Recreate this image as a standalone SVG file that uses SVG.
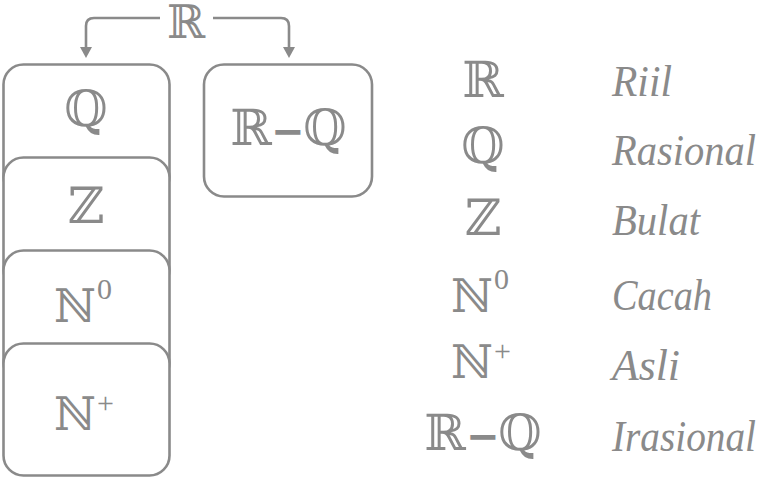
<svg xmlns="http://www.w3.org/2000/svg" width="761" height="478" viewBox="0 0 761 478">
<style>
.box{fill:#fff;stroke:#8a8a8a;stroke-width:2.6}
.con{fill:none;stroke:#8a8a8a;stroke-width:2.6}
.ds{font-family:"DejaVu Serif","DejaVu Sans",serif;font-size:50px;fill:#8a8a8a;text-anchor:middle}
.n{font-size:46px}
.mi{font-family:"DejaVu Sans",sans-serif;font-size:40px;font-weight:bold;fill:#8a8a8a;text-anchor:middle}
.sup{font-family:"Liberation Serif",serif;font-size:30px;fill:#8a8a8a}
.it{font-family:"Liberation Serif",serif;font-style:italic;font-size:45px;fill:#8a8a8a}
</style>
<g id="R-top"><text class="ds" x="186" y="38" style="font-size:46px">ℝ</text></g>
<g id="connectors">
<path class="con" d="M160,18 H94 Q86,18 86,26 V48"/>
<path d="M80,47 L92,47 L86,58 Z" fill="#8a8a8a"/>
<path class="con" d="M213,18 H281 Q289,18 289,26 V48"/>
<path d="M283,47 L295,47 L289,58 Z" fill="#8a8a8a"/>
</g>
<g id="Q-box"><rect class="box" x="3.5" y="64.5" width="166" height="132" rx="20"/><text class="ds" x="86" y="126">ℚ</text></g>
<g id="Z-box"><rect class="box" x="3.5" y="157.5" width="166" height="132" rx="20"/><text class="ds" x="86" y="223">ℤ</text></g>
<g id="N0-box"><rect class="box" x="3.5" y="250.5" width="166" height="132" rx="20"/><text class="ds n" x="75" y="322">ℕ</text><text class="sup" x="97" y="299">0</text></g>
<g id="Nplus-box"><rect class="box" x="3.5" y="343.5" width="166" height="132" rx="20"/><text class="ds n" x="75" y="430">ℕ</text><text class="sup" x="97" y="413">+</text></g>
<g id="RQ-box"><rect class="box" x="204" y="64.5" width="168" height="132" rx="20"/><text class="ds" x="251" y="145">ℝ</text><text class="mi" x="288" y="145">−</text><text class="ds" x="325" y="145">ℚ</text></g>
<g id="legend">
<text class="ds" x="483" y="97">ℝ</text><text class="it" x="612" y="96" textLength="60" lengthAdjust="spacingAndGlyphs">Riil</text>
<text class="ds" x="483" y="163">ℚ</text><text class="it" x="612" y="165" textLength="144" lengthAdjust="spacingAndGlyphs">Rasional</text>
<text class="ds" x="483" y="235">ℤ</text><text class="it" x="612" y="235" textLength="88" lengthAdjust="spacingAndGlyphs">Bulat</text>
<text class="ds n" x="472" y="312">ℕ</text><text class="sup" x="494" y="289">0</text><text class="it" x="612" y="310" textLength="100" lengthAdjust="spacingAndGlyphs">Cacah</text>
<text class="ds n" x="472" y="378">ℕ</text><text class="sup" x="494" y="361">+</text><text class="it" x="612" y="380" textLength="68" lengthAdjust="spacingAndGlyphs">Asli</text>
<text class="ds" x="445" y="450">ℝ</text><text class="mi" x="483" y="450">−</text><text class="ds" x="520" y="450">ℚ</text><text class="it" x="612" y="451" textLength="144" lengthAdjust="spacingAndGlyphs">Irasional</text>
</g>
</svg>
